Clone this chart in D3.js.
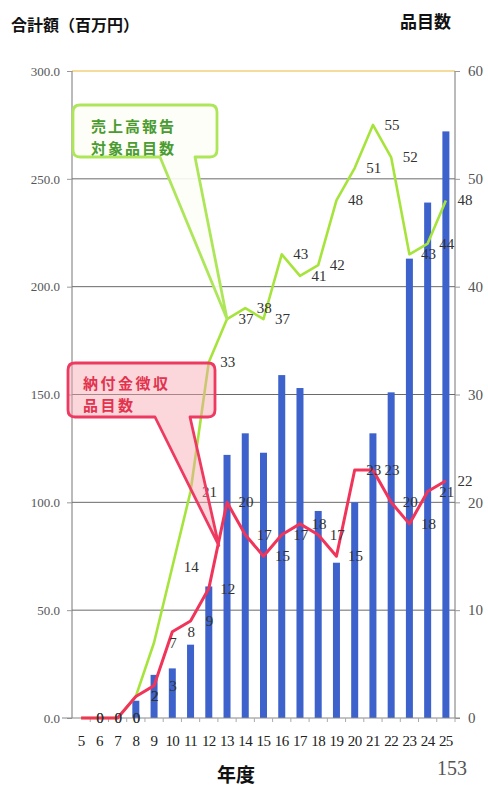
<!DOCTYPE html>
<html><head><meta charset="utf-8">
<script src="https://cdn.jsdelivr.net/npm/d3@7"></script>
<style>
html,body{margin:0;padding:0;background:#fff;}
svg{display:block;}
</style></head>
<body>
<svg id="c" width="488" height="790"></svg>
<script>
const years = [5,6,7,8,9,10,11,12,13,14,15,16,17,18,19,20,21,22,23,24,25];
const amounts = [0,0,0,8,20,23,34,61,122,132,123,159,153,96,72,100,132,151,213,239,272];
const salesItems = [0,0,0,2,7,14,21,33,37,38,37,43,41,42,48,51,55,52,43,44,48];
const leviedItems = [0,0,0,2,3,8,9,12,20,17,15,17,18,17,15,23,23,20,18,21,22];
const leftTicks = [0,50,100,150,200,250,300];
const rightTicks = [0,10,20,30,40,50,60];

const svg = d3.select("#c");
const L = 72, R = 455, T = 71, B = 718;
const x = d3.scaleBand().domain(years).range([L, R]);
const yL = d3.scaleLinear().domain([0,300]).range([B, T]);
const yR = d3.scaleLinear().domain([0,60]).range([B, T]);
const cx = d => x(d) + x.bandwidth()/2;
const serif = "'Liberation Serif','DejaVu Serif',serif";
const cjk = "'Noto Sans CJK JP','Noto Sans CJK SC',sans-serif";

svg.append("rect").attr("width",488).attr("height",790).attr("fill","#fff");

// gridlines
svg.append("g").selectAll("line").data(leftTicks.filter(t=>t>0)).join("line")
  .attr("x1", L).attr("x2", R).attr("y1", d=>yL(d)).attr("y2", d=>yL(d))
  .attr("stroke", d => d===300 ? "#f3cf7a" : "#6a6a6a").attr("stroke-width", d=> d===300?1.5:1);

// left axis
const gL = svg.append("g").attr("transform",`translate(${L},0)`)
  .call(d3.axisLeft(yL).tickValues(leftTicks).tickFormat(d3.format(".1f")).tickSize(5).tickPadding(7));
gL.select(".domain").attr("stroke","#777").attr("d",`M0,${B}V${T}`);
gL.selectAll(".tick line").attr("stroke","#999");
gL.selectAll("text").attr("font-family",serif).attr("font-size",13).attr("fill","#555");

// right axis
const gR = svg.append("g").attr("transform",`translate(${R},0)`)
  .call(d3.axisRight(yR).tickValues(rightTicks).tickSize(5).tickPadding(8));
gR.select(".domain").attr("stroke","#777").attr("d",`M0,${B}V${T}`);
gR.selectAll(".tick line").attr("stroke","#999");
gR.selectAll("text").attr("font-family",serif).attr("font-size",15).attr("fill","#555");

// bars
svg.append("g").selectAll("rect").data(years).join("rect")
  .attr("x", (d)=> cx(d)-3.5).attr("width",7)
  .attr("y", (d,i)=> yL(amounts[i])).attr("height",(d,i)=> B - yL(amounts[i]))
  .attr("fill","#3d62cc");

// x axis
const gX = svg.append("g").attr("transform",`translate(0,${B})`)
  .call(d3.axisBottom(x).tickSize(0).tickPadding(17));
gX.select(".domain").attr("stroke","#888").attr("d",`M${L-10},0H${R+5}`);
gX.selectAll("text").attr("font-family",serif).attr("font-size",15).attr("fill","#222").attr("letter-spacing",-0.6);
svg.append("g").selectAll("line").data(years).join("line")
  .attr("x1", d=>x(d)+x.bandwidth()).attr("x2", d=>x(d)+x.bandwidth())
  .attr("y1", B).attr("y2", B+4).attr("stroke","#aaa");

// lines
const line = d3.line().x((d,i)=>cx(years[i])).y(d=>yR(d));
svg.append("path").datum(salesItems).attr("d", line).attr("fill","none")
  .attr("stroke","#a6e43c").attr("stroke-width",2.6).attr("stroke-linejoin","round");
svg.append("path").datum(leviedItems).attr("d", line).attr("fill","none")
  .attr("stroke","#f0345a").attr("stroke-width",3).attr("stroke-linejoin","round");

// data labels
function labels(vals){
  svg.append("g").selectAll("text").data(vals).join("text")
    .attr("x",(d,i)=>cx(years[i])+19).attr("y",d=>yR(d)+5)
    .attr("text-anchor","middle").attr("font-family",serif).attr("font-size",15).attr("fill","#333")
    .text(d=>d);
}
labels(salesItems);
labels(leviedItems);

// callouts
function callout(x0,y0,x1,y1,bx0,bx1,tx,ty,stroke,fill,fillOp){
  const r=7;
  const p = `M${x0+r},${y0}H${x1-r}Q${x1},${y0} ${x1},${y0+r}V${y1-r}Q${x1},${y1} ${x1-r},${y1}`+
    `H${bx1}L${tx},${ty}L${bx0},${y1}H${x0+r}Q${x0},${y1} ${x0},${y1-r}V${y0+r}Q${x0},${y0} ${x0+r},${y0}Z`;
  svg.append("path").attr("d",p).attr("fill",fill).attr("fill-opacity",fillOp)
    .attr("stroke",stroke).attr("stroke-width",2.8).attr("stroke-linejoin","round");
}
callout(73,105,217,157,160,195,cx(13),yR(37),"#aee65a","#fdfef6",0.9);
callout(68,363,215,417,155,190,cx(12)+10,yR(16),"#ee3a60","#f6a5b0",0.45);

const txt = (s,xx,yy,col,size,w,fam,ls)=>svg.append("text").attr("x",xx).attr("y",yy)
  .attr("font-family",fam||cjk).attr("font-size",size).attr("font-weight",w||"bold").attr("fill",col)
  .attr("letter-spacing",ls||0).text(s);
txt("売上高報告",91,132,"#4a9c30",15,"bold",cjk,2);
txt("対象品目数",91,154,"#4a9c30",15,"bold",cjk,2);
txt("納付金徴収",83,389,"#e2334f",15,"bold",cjk,2.5);
txt("品目数",83,411,"#e2334f",15,"bold",cjk,2.5);

txt("合計額（百万円）",11,31,"#111",16);
txt("品目数",400,28,"#111",17);
txt("年度",217,782,"#111",19);
txt("153",437,775,"#555",20,"normal",serif);
</script>
</body></html>
